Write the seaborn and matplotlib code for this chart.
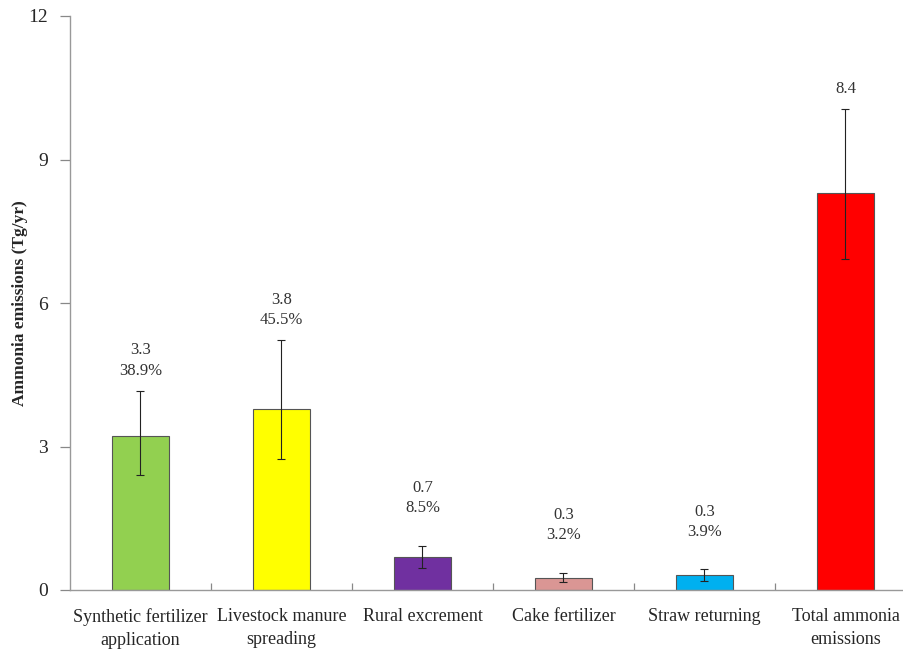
import matplotlib
matplotlib.use("Agg")
import matplotlib.pyplot as plt
import numpy as np
import pandas as pd
import seaborn as sns

categories = ["Synthetic fertilizer\napplication", "Livestock manure\nspreading",
              "Rural excrement", "Cake fertilizer", "Straw returning",
              "Total ammonia\nemissions"]
emissions = [3.22, 3.78, 0.70, 0.26, 0.31, 8.31]
err_low = [2.40, 2.74, 0.45, 0.17, 0.19, 6.92]
err_high = [4.17, 5.22, 0.93, 0.36, 0.43, 10.06]
labels = ["3.3\n38.9%", "3.8\n45.5%", "0.7\n8.5%", "0.3\n3.2%", "0.3\n3.9%", "8.4"]
colors = ["#92D050", "#FFFF00", "#7030A0", "#DA9694", "#00B0F0", "#FF0000"]

sns.set_theme(style="white")
plt.rcParams["font.family"] = ["Liberation Serif", "DejaVu Serif"]
plt.rcParams["font.size"] = 12

df = pd.DataFrame({"source": categories, "value": emissions})

fig = plt.figure(figsize=(9.04, 6.52), dpi=100)
ax = fig.add_axes([70 / 904, 62 / 652, 846 / 904, 574 / 652])

sns.barplot(data=df, x="source", y="value", hue="source", palette=colors,
            saturation=1, width=0.40, edgecolor="#555555", linewidth=0.8,
            legend=False, ax=ax)

x = np.arange(len(categories))
vals = np.array(emissions)
yerr = [vals - np.array(err_low), np.array(err_high) - vals]
ax.errorbar(x, vals, yerr=yerr, fmt="none", ecolor="#222222",
            elinewidth=0.8, capsize=3, capthick=0.8)

# labels sit higher above the short bars
for i, txt in enumerate(labels):
    off = 0.25 if emissions[i] > 2 else 0.62
    ax.text(i, err_high[i] + off, txt, ha="center", va="bottom",
            fontsize=12, color="#333333", linespacing=1.35)

ax.set_xlim(-0.5, len(categories) - 0.5)
ax.set_ylim(0, 12)
ax.set_yticks([0, 3, 6, 9, 12])
ax.set_xlabel("")
ax.set_ylabel("Ammonia emissions (Tg/yr)", fontsize=12.5, fontweight="bold")
ax.yaxis.set_label_coords(-0.05, 0.5)

ax.tick_params(axis="x", which="major", bottom=False, length=0, pad=13, labelsize=13)
ax.set_xticks(np.arange(0.5, len(categories) - 0.5), minor=True)
ax.tick_params(axis="x", which="minor", bottom=True, direction="in", length=5,
               width=0.9, color="#888888")
ax.tick_params(axis="y", left=True, direction="out", length=7, width=0.9,
               color="#888888", labelsize=14, pad=9)
for lab in ax.get_xticklabels():
    lab.set_linespacing(1.45)

for s in ["top", "right"]:
    ax.spines[s].set_visible(False)
for s in ["left", "bottom"]:
    ax.spines[s].set_color("#999999")
    ax.spines[s].set_linewidth(1.0)

fig.savefig("out.png", dpi=100)
